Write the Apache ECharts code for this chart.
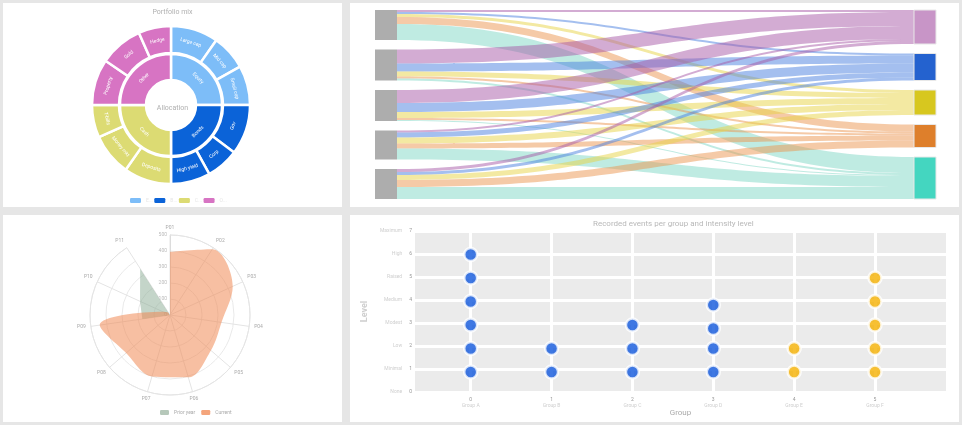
<!DOCTYPE html>
<html>
<head>
<meta charset="utf-8">
<script src="https://cdn.jsdelivr.net/npm/echarts@6/dist/echarts.min.js"></script>
<style>
html, body { margin: 0; padding: 0; width: 962px; height: 425px; overflow: hidden; background: #e6e6e6; }
.panel { position: absolute; background: #fff; }
</style>
</head>
<body>
<div id="sun" class="panel" style="left:3px;top:3px;width:339px;height:204px"></div>
<div id="flow" class="panel" style="left:350px;top:3px;width:609px;height:204px"></div>
<div id="polar" class="panel" style="left:3px;top:215px;width:339px;height:207px"></div>
<div id="dots" class="panel" style="left:350px;top:215px;width:609px;height:207px"></div>

<script type="text/javascript">
	// sunburst
	var sunGroups = ['Equity', 'Bonds', 'Cash', 'Other'];
	var sunLeaves = [
		['Large cap', 'Mid cap', 'Small cap'],
		['Gov', 'Corp', 'High yield'],
		['Deposits', 'Money mkt', 'T-bills'],
		['Property', 'Gold', 'Hedge']
	];
	var sunValues = [
		[35, 26, 29],
		[37, 24, 29],
		[35, 31, 24],
		[34, 32, 24]
	];

	// sankey
	var flowSources = ['Source A', 'Source B', 'Source C', 'Source D', 'Source E'];
	var flowTargets = ['Target 1', 'Target 2', 'Target 3', 'Target 4', 'Target 5'];
	var flowMatrix = [
		[2, 2, 3, 7, 16],
		[14, 8, 5, 2, 2],
		[13, 9, 6, 2, 1],
		[2, 5, 6, 5, 11],
		[3, 3, 5, 7, 12]
	];

	// polar
	var polarCats = ['P01', 'P02', 'P03', 'P04', 'P05', 'P06', 'P07', 'P08', 'P09', 'P10', 'P11'];
	var priorVals = [90, 0, 0, 0, 0, 0, 0, 0, 175, 206, 345];
	var currentVals = [394, 488, 431, 325, 338, 406, 400, 363, 444, 50, 20];

	// scatter
	var dotCats = ['Group A', 'Group B', 'Group C', 'Group D', 'Group E', 'Group F'];
	var levelNames = ['None', 'Minimal', 'Low', 'Modest', 'Medium', 'Raised', 'High', 'Maximum'];
	var blueDots = [[0, 1], [0, 2], [0, 3], [0, 4], [0, 5], [0, 6], [1, 1], [1, 2],
		[2, 1], [2, 2], [2, 3], [3, 1], [3, 2], [3, 2.85], [3, 3.85]];
	var amberDots = [[4, 1], [4, 2], [5, 1], [5, 2], [5, 3], [5, 4], [5, 5]];

	var sunColors = ['#7dbdf8', '#0b63d8', '#dcdb73', '#d774c3'];
	var targetColors = ['#c895c7', '#2462cf', '#d7c71f', '#de7f2b', '#44d6c0'];
	var linkColors = ['#a75aa7', '#4a7fe0', '#e8d445', '#ec9650', '#7fd8c6'];
	var font = 'Roboto';

	// ---------- top left ----------
	var sunData = sunGroups.map(function(g, i) {
		return {
			name : g,
			itemStyle : { color : sunColors[i] },
			children : sunLeaves[i].map(function(n, j) {
				return { name : n, value : sunValues[i][j], itemStyle : { color : sunColors[i] } };
			})
		};
	});
	var sunChart = echarts.init(document.getElementById('sun'));
	sunChart.setOption({
		textStyle : { fontFamily : font },
		title : [ {
			text : 'Portfolio mix',
			left : 'center',
			top : 1,
			textStyle : { fontSize : 7, color : '#b0b0b0', fontWeight : 'normal' }
		}, {
			text : 'Allocation',
			left : 'center',
			top : 97,
			textStyle : { fontSize : 7, color : '#b0b0b0', fontWeight : 'normal' }
		} ],
		legend : {
			left : 122,
			top : 190,
			icon : 'roundRect',
			itemWidth : 11,
			itemHeight : 5,
			itemGap : 1.5,
			textStyle : { fontSize : 5, color : '#e6e6e6', width : 10, overflow : 'truncate' },
			data : sunGroups
		},
		series : [ {
			type : 'sunburst',
			center : [ 168, 102 ],
			sort : null,
			nodeClick : false,
			data : sunData,
			itemStyle : { borderColor : '#fff', borderWidth : 2.5 },
			label : { color : '#fff', fontSize : 5, rotate : 'tangential' },
			levels : [ {}, { r0 : 25, r : 51 }, { r0 : 52, r : 79 } ]
		}, {
			// only feeds the legend
			type : 'pie',
			radius : [ 0, 0 ],
			center : [ 168, 102 ],
			silent : true,
			label : { show : false },
			data : sunGroups.map(function(g, i) {
				return { name : g, value : 1, itemStyle : { color : sunColors[i] } };
			})
		} ]
	});

	// ---------- top right ----------
	var nodes = [];
	flowSources.forEach(function(s) {
		nodes.push({ name : s, itemStyle : { color : '#adadad', borderWidth : 0 } });
	});
	flowTargets.forEach(function(t, j) {
		nodes.push({ name : t, itemStyle : { color : targetColors[j], borderColor : '#e8e8e8', borderWidth : 1 } });
	});
	var links = [];
	for (var i = 0; i < flowSources.length; i++) {
		for (var j = 0; j < flowTargets.length; j++) {
			links.push({
				source : flowSources[i],
				target : flowTargets[j],
				value : flowMatrix[i][j],
				lineStyle : { color : linkColors[j] }
			});
		}
	}
	var flowChart = echarts.init(document.getElementById('flow'));
	flowChart.setOption({
		series : [ {
			type : 'sankey',
			left : 25,
			right : 23,
			top : 7,
			bottom : 8,
			nodeWidth : 22,
			nodeGap : 9.5,
			layoutIterations : 0,
			draggable : false,
			label : { show : false },
			lineStyle : { opacity : 0.5, curveness : 0.5 },
			data : nodes,
			links : links
		} ]
	});

	// ---------- bottom left ----------
	var polarChart = echarts.init(document.getElementById('polar'));
	polarChart.setOption({
		textStyle : { fontFamily : font },
		legend : {
			left : 152,
			bottom : 2,
			icon : 'roundRect',
			itemWidth : 9,
			itemHeight : 5,
			itemGap : 6,
			textStyle : { fontSize : 5, color : '#aaa' },
			data : [ 'Prior year', 'Current' ]
		},
		polar : { center : [ 167, 100 ], radius : 80 },
		angleAxis : {
			type : 'category',
			data : polarCats,
			boundaryGap : false,
			startAngle : 90,
			axisLine : { lineStyle : { color : '#e4e4e4' } },
			axisTick : { show : false },
			axisLabel : { fontSize : 5, color : '#aaa', margin : 5 },
			splitLine : { show : true, lineStyle : { color : '#e4e4e4' } }
		},
		radiusAxis : {
			min : 0,
			max : 500,
			interval : 100,
			axisLine : { lineStyle : { color : '#dcdcdc' } },
			axisTick : { show : false },
			axisLabel : { fontSize : 5, color : '#bbb', margin : 3 },
			splitLine : { show : true, lineStyle : { color : '#e9e9e9' } }
		},
		series : [ {
			name : 'Prior year',
			type : 'line',
			coordinateSystem : 'polar',
			data : priorVals,
			color : '#b6c8ba',
			symbol : 'none',
			lineStyle : { width : 0 },
			areaStyle : { color : '#8aab93', opacity : 0.5 }
		}, {
			name : 'Current',
			type : 'line',
			coordinateSystem : 'polar',
			data : currentVals,
			color : '#f4a57c',
			smooth : 0.35,
			symbol : 'none',
			lineStyle : { width : 0 },
			areaStyle : { color : '#f08a55', opacity : 0.55 }
		} ]
	});

	// ---------- bottom right ----------
	var dotChart = echarts.init(document.getElementById('dots'));
	var dotStyle = { borderColor : '#fff', borderWidth : 2.5 };
	dotChart.setOption({
		textStyle : { fontFamily : font },
		title : {
			text : 'Recorded events per group and intensity level',
			left : 238,
			top : 0,
			textStyle : { fontSize : 8, color : '#b8b8b8', fontWeight : 'normal' }
		},
		grid : [ {
			show : true,
			backgroundColor : '#ebebeb',
			borderWidth : 0,
			left : 65,
			right : 13,
			top : 16,
			bottom : 26.5
		}, {
			left : 120.7,
			right : 84,
			top : 16,
			bottom : 26.5
		} ],
		xAxis : [ {
			gridIndex : 0,
			type : 'value',
			axisLine : { show : false },
			axisTick : { show : false },
			axisLabel : { show : false },
			splitLine : { show : false },
			name : 'Group',
			nameLocation : 'middle',
			nameGap : 17,
			nameTextStyle : { fontSize : 8, color : '#aaa' }
		}, {
			gridIndex : 1,
			type : 'category',
			data : dotCats,
			boundaryGap : false,
			axisLine : { show : false },
			axisTick : { show : false },
			splitLine : { show : true, lineStyle : { color : '#fff', width : 3 } },
			axisLabel : {
				margin : 1,
				formatter : function(v, i) {
					return '{n|' + i + '}\n{t|' + v + '}';
				},
				rich : {
					n : { fontSize : 5, color : '#999', lineHeight : 6 },
					t : { fontSize : 5, color : '#cfcfcf', lineHeight : 7 }
				}
			}
		} ],
		yAxis : [ {
			gridIndex : 0,
			type : 'value',
			min : 0,
			max : 7,
			interval : 1,
			axisLine : { show : false },
			axisTick : { show : false },
			splitLine : { lineStyle : { color : '#fff', width : 3 } },
			axisLabel : {
				margin : 3,
				formatter : function(v) {
					return '{t|' + levelNames[v] + '}{n|' + v + '}';
				},
				rich : {
					t : { fontSize : 5, color : '#cfcfcf', padding : [ 0, 7, 0, 0 ] },
					n : { fontSize : 5, color : '#999' }
				}
			},
			name : 'Level',
			nameLocation : 'middle',
			nameRotate : 90,
			nameGap : 42,
			nameTextStyle : { fontSize : 9, color : '#cfcfcf', fontWeight : 'bold' }
		}, {
			gridIndex : 1,
			type : 'value',
			min : 0,
			max : 7,
			show : false
		} ],
		series : [ {
			type : 'scatter',
			xAxisIndex : 1,
			yAxisIndex : 1,
			symbolSize : 13,
			itemStyle : Object.assign({ color : '#0f56dc' }, dotStyle),
			data : blueDots
		}, {
			type : 'scatter',
			xAxisIndex : 1,
			yAxisIndex : 1,
			symbolSize : 13,
			itemStyle : Object.assign({ color : '#f5b000' }, dotStyle),
			data : amberDots
		} ]
	});
</script>
</body>
</html>
